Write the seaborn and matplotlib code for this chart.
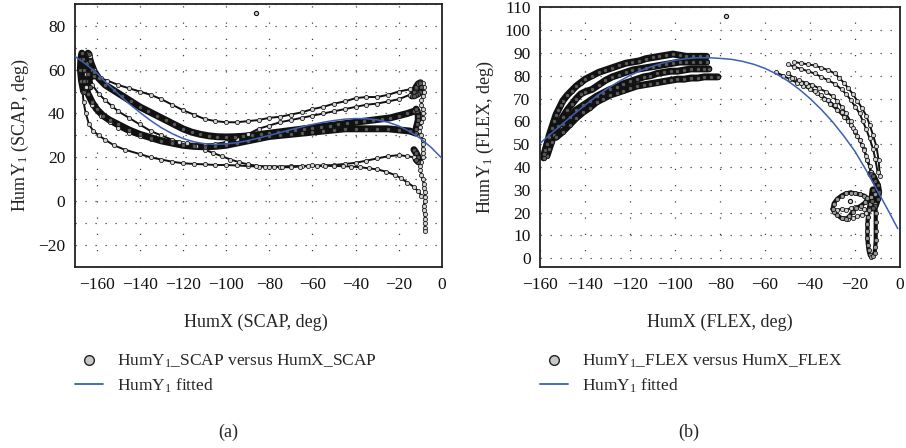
import matplotlib
matplotlib.use("Agg")
import matplotlib.pyplot as plt
import pandas as pd
import seaborn as sns
from matplotlib.lines import Line2D
from matplotlib.ticker import MultipleLocator

# ---------------- data: panel (a) SCAP ----------------
scap_spike_a_x = [-166, -167, -167.5, -167.3, -166.8, -166.2, -165.6, -165]
scap_spike_a_y = [50, 55, 60, 65, 67.5, 65, 60, 55]
scap_spike_b_x = [-163, -163.8, -164.3, -164, -163.5, -163, -162.2, -161.4]
scap_spike_b_y = [52, 58, 63, 67.5, 67, 64, 60, 57]

scap_top_x = [-163, -161, -158, -155, -150, -145, -140, -135, -130, -125, -120, -115, -110, -105, -100, -95,
              -90, -85, -80, -75, -70, -65, -60, -55, -50, -45, -40, -35, -30, -25, -20, -15, -12]
scap_top_y = [66, 60, 56, 55, 53, 51.5, 50, 48.5, 46.5, 44, 41.5, 39.5, 37.5, 36.5, 36, 36,
              36.5, 37, 38, 38.5, 39.5, 40.5, 42, 43, 44.5, 45.5, 47, 47.5, 47.5, 48.5, 50, 51, 51.5]

scap_band_x = [-163, -161, -159, -156, -152, -148, -144, -140, -136, -132, -128, -124, -120, -116, -112, -108,
               -104, -100, -96, -92, -88, -84, -80, -76, -72, -68, -64, -60, -56, -52, -48, -44, -40, -36,
               -32, -28, -24, -20, -16, -13]
scap_band_y = [64, 59, 56, 53, 50.5, 48, 45.5, 43, 41, 39, 37, 35, 33, 31.5, 30.5, 29.8,
               29.4, 29.3, 29.4, 29.6, 30, 30.5, 31, 31.5, 32, 32.5, 33, 33.5, 34, 34.5, 35, 35.5, 36, 36.5,
               37, 37.5, 38, 39, 40, 41]

scap_rise_x = [-165, -162, -159, -156, -153, -150, -145, -140, -135, -130, -125, -120, -115, -110, -105, -100,
               -95, -90, -85, -80, -75, -70, -65, -60, -55, -50, -45, -40, -35, -30, -25, -20, -15, -12]
scap_rise_y = [58, 53, 49, 46, 43.5, 41, 38, 35, 32, 30, 28, 26.5, 25.5, 25.5, 26, 27,
               28.5, 30.5, 33, 34.5, 36, 37, 38, 39, 40, 41, 42, 43, 44, 44.5, 45.5, 46.5, 48.5, 49.5]

scap_mid_x = [-166, -164, -162, -160, -157, -154, -150, -145, -140, -135, -130, -125, -120, -115, -110, -105,
              -100, -95, -90, -85, -80, -75, -70, -65, -60, -55, -50, -45, -40, -35, -30, -25, -20, -15, -12]
scap_mid_y = [55, 49, 45, 42, 39, 37, 35, 32.5, 30.5, 29, 27.5, 26.5, 25.5, 25, 24.8, 25,
              25.5, 26.5, 27.5, 28.5, 29.5, 30, 30.5, 31, 31.5, 32, 32.5, 33, 33, 33, 33, 33, 32.5, 32, 31]

scap_low_x = [-167, -166.5, -166, -165, -163.5, -161.5, -159, -156, -152, -147, -140, -135, -130, -125, -120,
              -115, -110, -105, -100, -95, -90, -85, -80, -75, -70, -65, -60, -55, -50, -45, -40, -35, -30,
              -25, -20, -16, -13]
scap_low_y = [55, 50, 45, 40, 35, 32, 30, 28, 25.5, 23.5, 21.5, 20, 19, 18, 17.3,
              17, 16.8, 16.5, 16.5, 16.3, 16, 15.8, 15.8, 15.8, 16, 16, 16.3, 16.3, 16.5, 17, 17.5, 18.5, 19.5,
              20.5, 21, 20.5, 20]

scap_drop_x = [-165, -162, -158, -154, -150, -145, -140, -135, -130, -125, -122,
               -118, -114, -110, -106, -102, -98, -94, -90, -86, -82, -78, -74, -70, -66, -62, -58, -54, -50,
               -46, -42, -38, -34, -30, -26, -22, -19, -16, -13, -11, -9.5]
scap_drop_y = [52, 44, 39, 36, 33.5, 31, 29.5, 28.5, 27.5, 27, 26.8,
               26.5, 25, 23.5, 22, 20.5, 19, 17.8, 16.8, 16.2, 15.8, 15.8, 15.5, 15.5, 15.8, 16, 16, 16.2, 16,
               16, 15.8, 15.5, 15, 14.5, 13.5, 12, 10.5, 8.5, 6.5, 4.5, 2.5]

scap_end_x = [-11, -10, -9, -8.5, -8.5, -9, -9.5, -9.5, -9, -9, -9, -9.5, -10, -10.5, -9.5, -9, -9, -9, -9,
              -9, -9.5, -10, -10, -9.5, -9, -8.5, -8.5, -8, -8, -8, -8.5, -8.5, -8, -8, -8, -8, -8]
scap_end_y = [54, 54.5, 54, 52, 50, 48, 46, 44, 42, 40, 38, 36, 34, 32, 30, 28, 26, 24, 22,
              20, 18, 16, 14, 12, 10, 8, 6, 4, 2, 0, -2, -4, -6, -8, -10, -12, -13.5]

scap_c1_x = [-14, -13, -12, -11, -10, -9.5, -10, -11, -12, -13]
scap_c1_y = [48, 50, 52, 53.5, 54, 52, 50, 49, 48.5, 48]
scap_c2_x = [-12, -11.5, -11, -11, -11.5, -12]
scap_c2_y = [33, 35, 37, 39, 41, 42]
scap_c3_x = [-13, -12, -11, -11, -12]
scap_c3_y = [23.5, 22, 20, 18, 19]

scap_out_x = [-86]
scap_out_y = [86]

scap_fit_x = [-170, -165, -160, -155, -150, -145, -140, -135, -130, -125, -120, -115, -110, -105, -100, -95,
              -90, -85, -80, -75, -70, -65, -60, -55, -50, -45, -40, -35, -30, -25, -20, -15, -10, -5, 0]
scap_fit_y = [66, 62.5, 58.5, 53.5, 49, 44.5, 40.5, 36.8, 33.5, 30.8, 28.6, 27.1, 26.2, 25.9, 26.1, 26.7,
              27.6, 28.8, 30, 31.3, 32.6, 33.9, 35, 36, 36.8, 37.4, 37.7, 37.6, 37.1, 36, 34.3, 31.8, 28.6,
              24.5, 19.5]

# ---------------- data: panel (b) FLEX ----------------
flex_up_a_x = [-158, -157, -156, -155, -154, -153, -152, -151, -150, -148, -146, -144, -142, -140, -137, -134,
               -131, -128, -125, -122, -119, -116, -113, -110, -107, -104, -101, -98, -95, -92, -89, -86]
flex_up_a_y = [46, 50, 54, 57, 60, 63, 65, 67, 69, 71.5, 73.5, 75.5, 77, 78.5, 80, 81.5,
               82.5, 83.5, 84.5, 85.5, 86, 86.5, 87.5, 88, 88.5, 89, 89.5, 89, 88.5, 88.5, 88.5, 88.5]
flex_up_b_x = [-157, -156, -155, -154, -152, -150, -148, -146, -144, -142, -140, -137, -134, -131, -128, -125,
               -122, -119, -116, -113, -110, -107, -104, -101, -98, -95, -92, -89, -86]
flex_up_b_y = [45, 48, 51, 54, 58, 62, 65, 67.5, 70, 72, 73, 74, 76, 78, 79.5, 80.5,
               81.5, 82.5, 83, 83.5, 84, 84.5, 85, 85.5, 86, 86, 86, 86, 86]
flex_lo_a_x = [-150, -147, -144, -141, -138, -135, -132, -129, -126, -123, -120, -117, -114, -111, -108, -105,
               -102, -99, -96, -93, -90, -87, -85]
flex_lo_a_y = [59, 62, 65, 67, 69, 71, 72.5, 74, 75, 76.5, 77.5, 78.5, 79.5, 80, 81, 81.5,
               82, 82, 82.5, 83, 83, 83, 83]
flex_lo_b_x = [-153, -150, -147, -144, -141, -138, -135, -132, -129, -126, -123, -120, -117, -114, -111, -108,
               -105, -102, -99, -96, -93, -90, -87, -84, -81]
flex_lo_b_y = [53, 55.5, 58.5, 61.5, 64, 66, 68.5, 70, 71.5, 72.5, 73.5, 74.5, 75.5, 76, 76.5, 77,
               77.5, 78, 78.5, 78.5, 79, 79, 79.5, 79.5, 79.5]
flex_base_x = [-158.5, -158.3, -157.8, -157, -156]
flex_base_y = [44, 45.5, 47.5, 50, 53]

flex_r1_x = [-55, -52, -49, -46, -43, -40, -37, -34, -31, -28, -25, -22, -20, -18, -16, -14.5, -13]
flex_r1_y = [81.5, 80, 78.5, 77, 75.5, 74, 72.3, 70, 67.5, 65, 62, 58.5, 55.5, 52, 48, 43, 38]
flex_r2_x = [-50, -47, -44, -41, -38, -35, -32, -29, -26, -24, -22, -20, -18, -16.5, -15, -13.5, -12, -11, -10]
flex_r2_y = [85, 84, 83, 82, 81, 79.5, 78, 76.5, 74, 72, 69.5, 66.5, 63.5, 60, 56.5, 52.5, 48, 43.5, 38]
flex_r3_x = [-47, -44, -41, -38, -35, -32, -29, -27, -25, -23, -21, -19, -17, -15, -13.5, -12, -10.5, -9.5, -9]
flex_r3_y = [86, 85.5, 85, 84.5, 83.5, 82.5, 81, 79, 77, 74.5, 72, 69, 66, 62.5, 58.5, 54, 49, 43, 36]
flex_r4_x = [-50, -47, -44, -41, -38, -35, -32, -29, -26, -23, -21, -19, -17, -15, -13.5, -12.5]
flex_r4_y = [81, 79, 77, 75.5, 73.5, 71.5, 69.5, 67, 64, 60, 57, 53.5, 49.5, 45, 40.5, 36]
flex_r5_x = [-48, -45, -42, -39, -36, -33, -30, -28, -26, -24, -22, -20, -18, -16, -14.5, -13]
flex_r5_y = [79, 78, 77, 76, 74.5, 73, 71, 69, 66.5, 63.5, 60, 56, 52, 47.5, 43, 38]

flex_knot_x = [-13, -12, -11, -10, -9.5, -10, -11, -12, -12.5, -12]
flex_knot_y = [37, 36, 34, 32, 29, 26, 23, 22, 25, 30]
flex_loop_x = [-12, -13, -13.5, -14, -14.3, -14.5, -14.5, -14.5, -14.3, -14, -13.5, -12.8, -12, -11.3, -11,
               -10.8, -10.8, -10.8, -10.8, -11, -11.2]
flex_loop_y = [30, 27, 24, 21, 18, 15, 12, 9, 6, 3.5, 1.5, 0.7, 1, 2.5, 5, 8, 12, 16, 20, 24, 28]
flex_blob_x = [-30, -29.5, -28, -26, -24, -22, -20, -18, -16, -14.5, -15.5, -17.5, -19.5, -21, -22.5, -24, -26,
               -28, -29.5, -30]
flex_blob_y = [21.5, 24, 26, 27.5, 28.5, 28.8, 28.5, 28, 27.5, 26.5, 24.5, 23, 22, 20.5, 18.5, 17.3, 17.5,
               19, 20.5, 21.5]
flex_wave_x = [-28, -26, -24, -22, -20, -18, -16, -14]
flex_wave_y = [21, 21.8, 21, 22, 22.5, 22, 21.5, 21.5]
flex_under_x = [-25, -23, -21, -19, -17, -15]
flex_under_y = [17.5, 17, 17.5, 18.5, 19, 20]

flex_out_x = [-77.5, -22.2]
flex_out_y = [106, 25.2]

flex_fit_x = [-160, -155, -150, -145, -140, -135, -130, -125, -120, -115, -110, -105, -100, -95, -90, -85,
              -80, -75, -70, -65, -60, -55, -50, -45, -40, -35, -30, -25, -20, -15, -10, -5, -1]
flex_fit_y = [50.5, 54.8, 59, 63.2, 67.2, 71, 74.5, 77.5, 80.2, 82.4, 84.2, 85.7, 86.8, 87.5, 87.9, 87.9,
              87.6, 87.2, 86.3, 85, 83.2, 80.8, 77.8, 74.2, 70, 65.2, 59.8, 53.6, 46.8, 38.5, 29.5, 20.5, 13]

scap_curves = [
    ("spike_a", scap_spike_a_x, scap_spike_a_y, "thick"),
    ("spike_b", scap_spike_b_x, scap_spike_b_y, "thick"),
    ("top", scap_top_x, scap_top_y, "thin"),
    ("band", scap_band_x, scap_band_y, "thick"),
    ("rise", scap_rise_x, scap_rise_y, "thin"),
    ("mid", scap_mid_x, scap_mid_y, "thick"),
    ("low", scap_low_x, scap_low_y, "thin"),
    ("drop", scap_drop_x, scap_drop_y, "thin"),
    ("end", scap_end_x, scap_end_y, "thin"),
    ("c1", scap_c1_x, scap_c1_y, "thick"),
    ("c2", scap_c2_x, scap_c2_y, "thick"),
    ("c3", scap_c3_x, scap_c3_y, "thick"),
]
flex_curves = [
    ("up_a", flex_up_a_x, flex_up_a_y, "thick"),
    ("up_b", flex_up_b_x, flex_up_b_y, "thick"),
    ("lo_a", flex_lo_a_x, flex_lo_a_y, "thick"),
    ("lo_b", flex_lo_b_x, flex_lo_b_y, "thick"),
    ("base", flex_base_x, flex_base_y, "thick"),
    ("r1", flex_r1_x, flex_r1_y, "thin"),
    ("r2", flex_r2_x, flex_r2_y, "thin"),
    ("r3", flex_r3_x, flex_r3_y, "thin"),
    ("r4", flex_r4_x, flex_r4_y, "thin"),
    ("r5", flex_r5_x, flex_r5_y, "thin"),
    ("knot", flex_knot_x, flex_knot_y, "thick"),
    ("loop", flex_loop_x, flex_loop_y, "medium"),
    ("blob", flex_blob_x, flex_blob_y, "medium"),
    ("wave", flex_wave_x, flex_wave_y, "thin"),
    ("under", flex_under_x, flex_under_y, "thin"),
]

# ---------------- styling ----------------
sns.set_style("white")
plt.rcParams["font.family"] = ["Liberation Serif", "DejaVu Serif"]
plt.rcParams["mathtext.fontset"] = "custom"
plt.rcParams["mathtext.rm"] = "Liberation Serif"
plt.rcParams["mathtext.it"] = "Liberation Serif:italic"
plt.rcParams["axes.unicode_minus"] = True

W, H = 906, 448
FS = 12.5
BLUE = "#3d5fb5"
EDGE = "#111111"
LW = {"thin": 1.4, "medium": 3.0, "thick": 5.0}
FACE = {"thin": "#d4d4d4", "medium": "#9a9a9a", "thick": "#5a5a5a"}


def fx(px):
    return px / W


def fy(py):
    return 1 - py / H


def draw_panel(ax, curves, out_x, out_y, fit_x, fit_y):
    frames = [pd.DataFrame({"x": xs, "y": ys, "curve": name, "kind": kind})
              for name, xs, ys, kind in curves]
    df = pd.concat(frames, ignore_index=True)
    for kind, lw in LW.items():
        sub = df[df["kind"] == kind]
        if len(sub):
            sns.lineplot(data=sub, x="x", y="y", units="curve", estimator=None, sort=False,
                         color=EDGE, lw=lw, ax=ax, legend=False, zorder=2)
    for kind in LW:
        sub = df[df["kind"] == kind]
        if len(sub):
            sns.scatterplot(data=sub, x="x", y="y", s=9, color=FACE[kind], edgecolor=EDGE,
                            linewidth=0.55, ax=ax, legend=False, zorder=3)
    sns.scatterplot(x=out_x, y=out_y, s=9, color=FACE["thin"], edgecolor=EDGE, linewidth=0.8,
                    ax=ax, legend=False, zorder=3)
    sns.lineplot(x=fit_x, y=fit_y, color=BLUE, lw=1.1, ax=ax, sort=False, zorder=4)
    ax.set_xlabel("")
    ax.set_ylabel("")


def style_axes(ax):
    ax.set_axisbelow(True)
    for sp in ax.spines.values():
        sp.set_visible(True)
        sp.set_color("#222222")
        sp.set_linewidth(1.3)
    ax.tick_params(axis="both", which="major", direction="out", length=4, width=1.0,
                   labelsize=FS, colors="#111111", pad=3)
    ax.tick_params(axis="both", which="minor", length=0)
    ax.xaxis.grid(True, which="major", color="#444444", linestyle=(0, (1, 12)), linewidth=0.9)
    ax.yaxis.grid(True, which="both", color="#444444", linestyle=(0, (1, 7)), linewidth=0.9)


fig = plt.figure(figsize=(W / 100, H / 100), dpi=100)
ax1 = fig.add_axes([fx(75), fy(267), fx(442) - fx(75), fy(3.8) - fy(267)])
ax2 = fig.add_axes([fx(540.3), fy(267.4), fx(900) - fx(540.3), fy(7.3) - fy(267.4)])

draw_panel(ax1, scap_curves, scap_out_x, scap_out_y, scap_fit_x, scap_fit_y)
draw_panel(ax2, flex_curves, flex_out_x, flex_out_y, flex_fit_x, flex_fit_y)

ax1.set_xlim(-170, 0)
ax1.set_ylim(-30, 90)
ax1.set_xticks(list(range(-160, 1, 20)))
ax1.set_yticks([-20, 0, 20, 40, 60, 80])
ax1.yaxis.set_minor_locator(MultipleLocator(10))
style_axes(ax1)

ax2.set_xlim(-160, 0)
ax2.set_ylim(-4, 110)
ax2.set_xticks(list(range(-160, 1, 20)))
ax2.set_yticks(list(range(0, 111, 10)))
style_axes(ax2)

# axis titles
fig.text(fx(256), fy(322), "HumX (SCAP, deg)", ha="center", va="center", fontsize=FS + 0.5)
fig.text(fx(720), fy(322), "HumX (FLEX, deg)", ha="center", va="center", fontsize=FS + 0.5)
fig.text(fx(20), fy(135), "HumY$_1$ (SCAP, deg)", ha="center", va="center", rotation=90, fontsize=FS + 0.5)
fig.text(fx(485), fy(137), "HumY$_1$ (FLEX, deg)", ha="center", va="center", rotation=90, fontsize=FS + 0.5)


# legends
def legend_handles():
    return [Line2D([], [], marker="o", ls="none", markerfacecolor="#c8c8c8", markeredgecolor="#222222",
                   markeredgewidth=1.0, markersize=7),
            Line2D([], [], color=BLUE, lw=1.3)]


fig.legend(legend_handles(), ["HumY$_1$_SCAP versus HumX_SCAP", "HumY$_1$ fitted"],
           loc="upper left", bbox_to_anchor=(fx(75), fy(353)), frameon=False, fontsize=FS,
           handlelength=1.6, handletextpad=0.8, labelspacing=0.35, borderpad=0, borderaxespad=0)
fig.legend(legend_handles(), ["HumY$_1$_FLEX versus HumX_FLEX", "HumY$_1$ fitted"],
           loc="upper left", bbox_to_anchor=(fx(540), fy(353)), frameon=False, fontsize=FS,
           handlelength=1.6, handletextpad=0.8, labelspacing=0.35, borderpad=0, borderaxespad=0)

# panel captions
fig.text(fx(228), fy(432), "(a)", ha="center", va="center", fontsize=FS + 0.5)
fig.text(fx(689), fy(432), "(b)", ha="center", va="center", fontsize=FS + 0.5)

fig.savefig("out.png", dpi=100)
